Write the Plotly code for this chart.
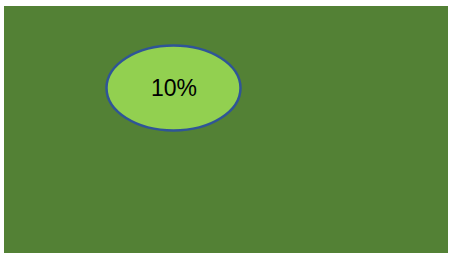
import plotly.graph_objects as go

# Data
labels = ["10%"]
values = [10]

W, H = 449, 253
fig = go.Figure()

# Invisible trace to set up axes
fig.add_trace(go.Scatter(x=[0], y=[0], mode="markers", marker=dict(opacity=0), hoverinfo="skip", showlegend=False))

fig.update_layout(
    width=W, height=H,
    margin=dict(l=0, r=0, t=0, b=0),
    paper_bgcolor="white",
    plot_bgcolor="#538135",
    xaxis=dict(domain=[4 / W, 448 / W], range=[4, 448], visible=False, fixedrange=True),
    yaxis=dict(domain=[0, 1 - 6 / H], range=[253, 6], visible=False, fixedrange=True),
    showlegend=False,
)

cx, cy, rx, ry = 173.5, 88, 67, 42.5
fig.add_shape(type="circle", xref="x", yref="y",
              x0=cx - rx, x1=cx + rx, y0=cy - ry, y1=cy + ry,
              fillcolor="#92D050", line=dict(color="#2F5597", width=2.5))

fig.add_annotation(x=cx, y=cy, xref="x", yref="y",
                   text=f"{values[0]}%", showarrow=False,
                   font=dict(family="Liberation Sans, Arial", size=23, color="black"))

fig.write_html("out.html", config={"displayModeBar": False},
               post_script="document.body.style.margin='0';")
